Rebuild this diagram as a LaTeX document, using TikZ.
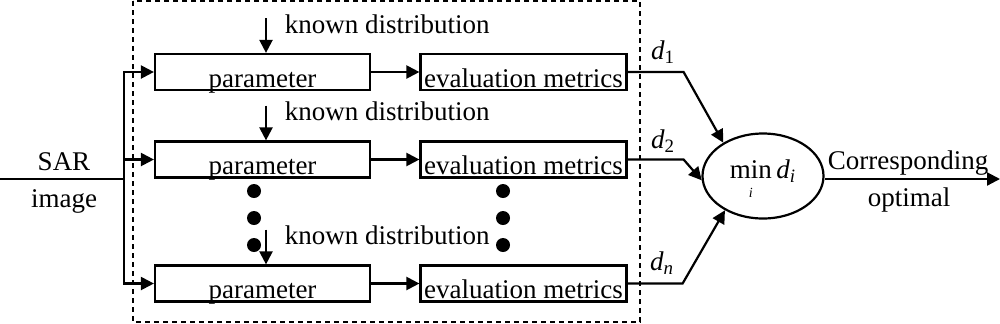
\documentclass[tikz,border=0pt]{standalone}
\usepackage{fontspec}
\setmainfont{Liberation Serif}
\usetikzlibrary{arrows.meta,shapes.geometric}

\newcommand\dsub[1]{\textit{d}\textsubscript{#1}}

\begin{document}
\begin{tikzpicture}[x=0.5pt,y=-0.5pt,font=\fontsize{13.5}{16}\selectfont,
    >={Triangle[length=6.5pt,width=6.5pt]},line width=1.1pt,
    box/.style={draw,line width=1.1pt,inner sep=0pt,
      text height=16.5pt,text depth=1.5pt},
    dot/.style={circle,fill,inner sep=0pt,minimum size=7pt}]
  \useasboundingbox (0,0) rectangle (1000,323);

  % Candidate distributions inside the dashed frame
  \draw[line width=0.75pt,dash pattern=on 2.5pt off 2pt]
    (133,1) rectangle (640,322);
  \foreach \n/\y in {1/72,2/159.5,3/283.5}{
    \node[box,minimum width=107.5pt] (p\n) at (262.5,\y) {parameter};
    \node[box,minimum width=103pt] (e\n) at (523.5,\y)
      {evaluation metrics};
    \coordinate (k\n) at (266,\y-54);
    \draw[->] (k\n) -- (k\n |- p\n.north);
    \node[anchor=base west] (t\n) at (277,\y-39) {known distribution};
    \draw[->] (p\n) -- (e\n);
  }
  \foreach \i/\y in {1/191,2/218,3/245}{
    \node[dot] (dl\i) at (254,\y) {};
    \node[dot] (dr\i) at (503,\y) {};
  }

  % Input image split to every branch
  \coordinate (in) at (0,179);
  \coordinate (sp) at (124,179);
  \draw (in) -- (sp);
  \foreach \n in {1,2,3}
    \draw[->] (sp) |- (p\n.west);
  \node[anchor=base] (sar) at (64,170) {SAR};
  \node[anchor=base] (img) at (64,207) {image};

  % Selection of the smallest metric
  \node[ellipse,draw,inner sep=0pt,minimum width=60.5pt,
        minimum height=42.5pt] (m) at (763,176)
    {\raisebox{-1pt}[0pt][0pt]{\makebox[0pt]{%
      $\displaystyle\mathop{\hbox{min}}\limits_{\hbox{\rule{0pt}{8pt}\scriptsize\itshape i}}$\,\dsub{\itshape i}}}};
  \draw[->] (e1.east) -- ++(56,0) -- (m.140);
  \draw[->] (e2.east) -- ++(56,0) -- (m.184);
  \draw[->] (e3.east) -- ++(55,0) -- (m.222);
  \node[anchor=base] (d1) at (663,59) {\dsub{1}};
  \node[anchor=base] (d2) at (663,148) {\dsub{2}};
  \node[anchor=base] (dn) at (662,270) {\dsub{\itshape n}};

  \coordinate (out) at (1000,179);
  \draw[->] (m.east |- out) -- (out);
  \node[anchor=base] (cor) at (908,169) {Corresponding};
  \node[anchor=base] (opt) at (909,206) {optimal};
\end{tikzpicture}
\end{document}
